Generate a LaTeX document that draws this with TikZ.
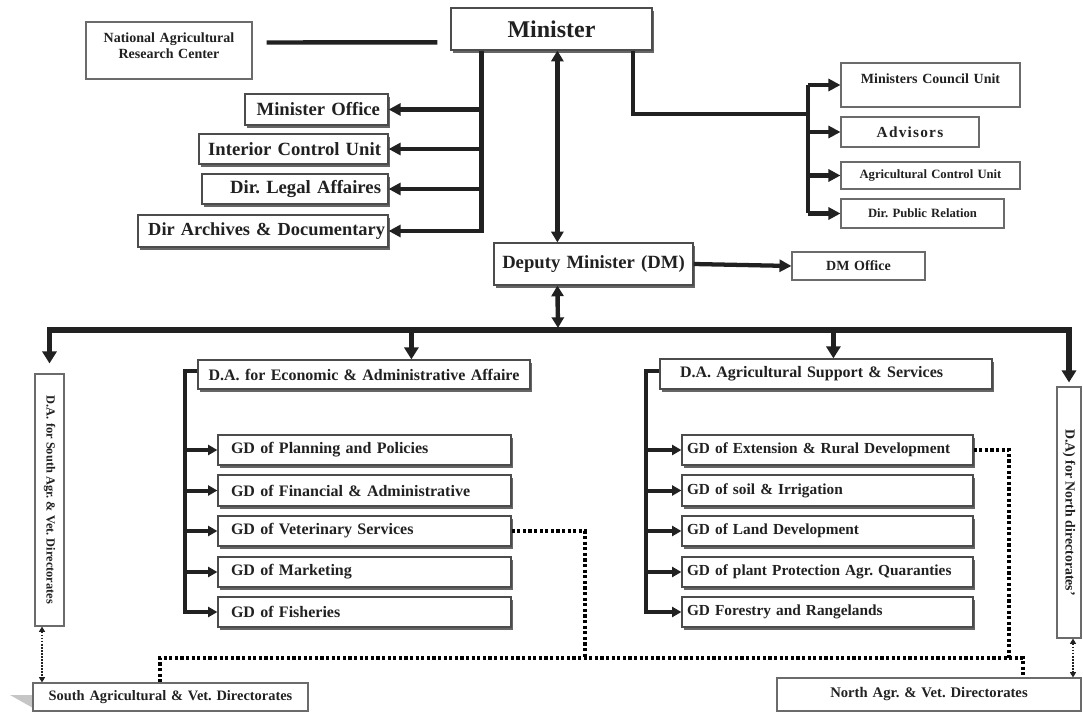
\documentclass[tikz,border=0pt]{standalone}
\usepackage{fontspec}
\setmainfont{Liberation Serif}
\usetikzlibrary{arrows.meta,calc,shadows}
\definecolor{ink}{gray}{0.13}
\definecolor{edgegray}{gray}{0.42}
\frenchspacing

\newcommand\mkbox[8]{%
  \pgfmathsetmacro\mkbw{(#5-#3)*0.75}%
  \pgfmathsetmacro\mkbh{(#6-#4)*0.75}%
  \pgfmathsetmacro\mkpad{#7*0.75}%
  \pgfmathsetmacro\mktw{\mkbw-2*\mkpad}%
  \node[#1, minimum height=\mkbh pt, text width=\mktw pt, inner xsep=\mkpad pt, inner ysep=0pt] (#2) at ({(#3+#5)/2},{(#4+#6)/2}) {#8};}

\tikzset{
  base/.style={draw=edgegray, line width=0.8pt, fill=white, text=ink, inner ysep=0pt},
  sbox/.style={base, draw=black!70, line width=0.9pt,
    drop shadow={shadow xshift=1.6pt, shadow yshift=-1.9pt, fill=black, opacity=0.6}},
  pbox/.style={base},
  fz/.style={font=\bfseries\fontsize{#1}{#1}\selectfont},
  trunkline/.style={draw=ink, line width=3.3pt},
  larr/.style={draw=ink, line width=3.2pt, -{Triangle[length=9pt,width=9pt]}},
  barr/.style={draw=ink, line width=3.8pt, -{Triangle[length=9pt,width=10.5pt]}},
  darr/.style={draw=ink, line width=3.3pt, {Triangle[length=8pt,width=9pt]}-{Triangle[length=8pt,width=9pt]}},
  gline/.style={draw=ink, line width=3pt},
  garr/.style={draw=ink, line width=3pt, -{Triangle[length=7pt,width=7.5pt]}},
  dotl/.style={draw=black, line width=2.6pt, dash pattern=on 2.4pt off 1.8pt},
  ddarr/.style={draw=ink, line width=1.3pt, dash pattern=on 1.3pt off 1pt,
    {Triangle[length=4pt,width=4.5pt]}-{Triangle[length=4pt,width=4.5pt]}}
}

\begin{document}
\begin{tikzpicture}[x=0.75pt, y=-0.75pt]
\useasboundingbox (0,0) rectangle (1083,713);

% ---------- top level ----------
\mkbox{sbox, align=center, fz=18}{min}{451}{8}{652}{50}{4}{Minister}
\mkbox{pbox, align=center, font=\bfseries\fontsize{10.5}{12}\selectfont}{narc}{86}{22}{252}{79}{3}{National Agricultural\\Research Center\\[-5pt]\mbox{}}

\mkbox{sbox, align=right, fz=14}{mo}{245}{94}{388}{125}{8}{Minister Office}
\mkbox{sbox, align=right, fz=14}{icu}{199}{134}{388}{164}{7}{Interior Control Unit}
\mkbox{sbox, align=right, fz=14}{dla}{202}{174}{388}{204}{7}{Dir. Legal Affaires}
\mkbox{sbox, align=right, fz=13.8}{dad}{138}{215}{388}{247}{3}{\mbox{Dir Archives \& Documentary}}

\mkbox{sbox, align=center, fz=14}{dm}{494}{243}{693}{285}{4}{Deputy Minister (DM)}
\mkbox{pbox, align=center, fz=10.5}{dmo}{792}{252}{925}{280}{4}{DM Office}

\mkbox{pbox, align=center, fz=10.5}{mcu}{841}{63}{1020}{107}{4}{Ministers Council Unit\\[-1.5pt]\mbox{}}
\mkbox{pbox, align=center, fz=11.5}{adv}{841}{117}{979}{147}{4}{\addfontfeature{LetterSpace=8}Advisors}
\mkbox{pbox, align=center, fz=9.5}{acu}{841}{162}{1020}{189}{4}{Agricultural Control Unit}
\mkbox{pbox, align=center, fz=9.5}{dpr}{841}{199}{1004}{228}{4}{Dir. Public Relation}

% ---------- deputy assistants ----------
\mkbox{sbox, align=center, fz=12}{da1}{198}{360}{530}{389}{4}{D.A. for Economic \& Administrative Affaire}
\mkbox{sbox, align=left, fz=12}{da2}{660}{359}{992}{389}{20}{D.A. Agricultural Support \& Services}

\mkbox{sbox, align=left, fz=12}{g1}{218}{435}{511}{465}{13}{GD of Planning and Policies}
\mkbox{sbox, align=left, fz=12}{g2}{218}{475}{511}{506}{13}{GD of Financial \& Administrative}
\mkbox{sbox, align=left, fz=12}{g3}{218}{516}{511}{546}{13}{GD of Veterinary Services}
\mkbox{sbox, align=left, fz=12}{g4}{218}{557}{511}{587}{13}{GD of Marketing}
\mkbox{sbox, align=left, fz=12}{g5}{218}{597}{511}{627}{13}{GD of Fisheries}

\mkbox{sbox, align=left, fz=11.5}{h1}{682}{435}{973}{465}{5}{GD of Extension \& Rural Development}
\mkbox{sbox, align=left, fz=11.5}{h2}{682}{475}{973}{506}{5}{GD of soil \& Irrigation}
\mkbox{sbox, align=left, fz=11.5}{h3}{682}{516}{973}{546}{5}{GD of Land Development}
\mkbox{sbox, align=left, fz=11.5}{h4}{682}{557}{973}{587}{5}{GD of plant Protection Agr. Quaranties}
\mkbox{sbox, align=left, fz=11.5}{h5}{682}{597}{973}{627}{5}{GD Forestry and Rangelands}

% vertical boxes
\node[pbox, rotate=-90, minimum width=189pt, minimum height=21.75pt, inner sep=0pt, fz=9.3, align=center] (sv) at (49.5,500) {D.A. for South Agr. \& Vet. Directorates};
\node[pbox, rotate=-90, minimum width=188.25pt, minimum height=18pt, inner sep=0pt, fz=10.4, align=center] (nv) at (1069,512.5) {D.A) for North directorates'};

% bottom boxes
\fill[gray!45] (10,695) -- (33,695) -- (33,708) -- cycle;
\mkbox{pbox, align=center, fz=10.8}{sb}{33}{683}{308}{711}{4}{South Agricultural \& Vet. Directorates}
\mkbox{pbox, align=center, fz=11}{nb}{777}{678}{1081}{711}{4}{North Agr. \& Vet. Directorates}

% ---------- connectors ----------
% NARC line
\draw[trunkline] ($(narc.north east)+(14,21)$) -- ($(min.north west)+(-13,35)$);

% left trunk
\coordinate (tl) at ($(min.south west)+(31,0)$);
\draw[larr] (tl) |- (dad.east);
\foreach \n in {mo,icu,dla} \draw[larr] (tl |- \n.east) -- (\n.east);

% minister <-> deputy
\coordinate (ax) at ($(min.south west)+(107,0)$);
\draw[darr] (ax) -- (ax |- dm.north);

% right branch
\coordinate (rt) at ($(min.south west)+(182.5,0)$);
\coordinate (rb) at (808,114);
\draw[trunkline] (rt) |- (rb);
\draw[trunkline] (rb |- mcu.west) -- (rb |- dpr.west);
\foreach \n in {mcu,adv,acu,dpr} \draw[larr] (rb |- \n.west) -- (\n.west);

% DM -> DM office
\draw[larr] (dm.east) -- (dmo.west);

% main bus
\coordinate (bc) at (558,330);
\draw[darr] (ax |- dm.south) -- ($(bc)+(0,-2)$);
\draw[barr] (bc) -| ($(sv.west)+(0,-10)$);
\draw[barr] (bc) -| ($(nv.west)+(0,-4)$);
\coordinate (a1) at ($(da1.north west)+(214,0)$);
\draw[barr] (a1 |- bc) -- (a1);
\coordinate (a2) at ($(da2.north west)+(174,0)$);
\draw[barr] (a2 |- bc) -- (a2);

% internal buses
\coordinate (lb) at ($(da1.north west)+(-12,12)$);
\draw[gline] (da1.west |- lb) -- (lb) -- ($(lb |- g5.west)+(0,1.5)$);
\foreach \n in {g1,g2,g3,g4,g5} \draw[garr] ($(lb |- \n.west)+(-1.5,0)$) -- (\n.west);
\coordinate (rb2) at ($(da2.north west)+(-13,13)$);
\draw[gline] (da2.west |- rb2) -- (rb2) -- ($(rb2 |- h5.west)+(0,1.5)$);
\foreach \n in {h1,h2,h3,h4,h5} \draw[garr] ($(rb2 |- \n.west)+(-1.5,0)$) -- (\n.west);

% dotted links
\coordinate (dv) at (585,658);
\coordinate (de) at (1009,658);
\coordinate (dl) at (160,658);
\coordinate (dr) at (1023,658);
\draw[dotl] (g3.east) -| (dv);
\draw[dotl] (h1.east) -| (de);
\draw[dotl] (dl |- sb.north) -- (dl) -- (dr) -- (dr |- nb.north);

% dotted double arrows
\draw[ddarr] ($(sv.east)+(-7.5,0)$) -- ($(sv.east |- sb.north)+(-7.5,0)$);
\draw[ddarr] ($(nv.east)+(4,0)$) -- ($(nv.east |- nb.north)+(4,0)$);
\end{tikzpicture}
\end{document}
